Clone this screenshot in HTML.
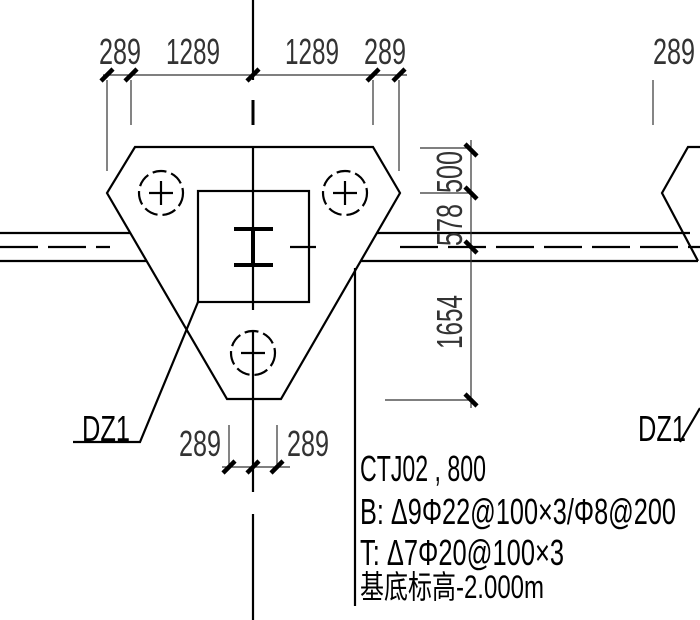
<!DOCTYPE html>
<html><head><style>body{margin:0;background:#fff}svg{display:block}</style></head><body>
<svg width="700" height="620" viewBox="0 0 700 620" xmlns="http://www.w3.org/2000/svg" font-family="Liberation Sans, Noto Sans CJK SC, sans-serif">
<g stroke="#000" fill="none" stroke-width="2.2">
<line x1="253" y1="0" x2="253" y2="80"/>
<line x1="253" y1="100" x2="253" y2="125" stroke-width="3"/>
<line x1="253" y1="147" x2="253" y2="310"/>
<line x1="253" y1="330" x2="253" y2="492"/>
<line x1="253" y1="514" x2="253" y2="620"/>
<polygon points="135,147 373,147 400,193 281,399 227,399 107,193"/>
<rect x="198" y="191" width="111" height="111"/>
<line x1="234" y1="229" x2="273" y2="229" stroke-width="4"/>
<line x1="234" y1="265" x2="273" y2="265" stroke-width="4"/>
<line x1="253" y1="229" x2="253" y2="265" stroke-width="4"/>
<g stroke-dasharray="14,5">
<circle cx="161" cy="193" r="22"/><circle cx="345" cy="193" r="22"/><circle cx="253" cy="353" r="22"/>
</g>
<path d="M149 193H173M161 181V205M333 193H357M345 181V205M241 353H265"/>
<path d="M0 233H130M0 261H147M377 233H690M361 261H698"/>
<g stroke-dasharray="38,10">
<path d="M0 247H110M290 247H316M400 247H700"/>
</g>
<path d="M700 147H688L662 193L698 261"/>
<path d="M198 302L140 442H73"/>
<path d="M680 442L700 408"/>
<line x1="355" y1="268" x2="355" y2="606"/>
</g>
<g stroke="#333" stroke-width="1.2" fill="none">
<path d="M103 75H407M107 80V171M131 80V125M373 80V125M399 80V171"/>
<path d="M471 140V408M420 148H471M420 193H471M385 400H471"/>
<path d="M222 467H290M229 425V467M277 425V467"/>
<path d="M653 80V125"/>
</g>
<g stroke="#000" stroke-width="4.5">
<path d="M101 81L113 69M125 81L137 69M247 81L259 69M367 81L379 69M393 81L405 69"/>
<path d="M465 144L477 156M465 187L477 199M465 241L477 253M465 394L477 406"/>
<path d="M223 473L235 461M247 473L259 461M271 473L283 461"/>
</g>
<g fill="#333" font-size="36">
<text x="99" y="64" textLength="42" lengthAdjust="spacingAndGlyphs">289</text>
<text x="166" y="64" textLength="54" lengthAdjust="spacingAndGlyphs">1289</text>
<text x="285" y="64" textLength="54" lengthAdjust="spacingAndGlyphs">1289</text>
<text x="364" y="64" textLength="42" lengthAdjust="spacingAndGlyphs">289</text>
<text x="653" y="64" textLength="42" lengthAdjust="spacingAndGlyphs">289</text>
<text x="179" y="456" textLength="42" lengthAdjust="spacingAndGlyphs">289</text>
<text x="287" y="456" textLength="42" lengthAdjust="spacingAndGlyphs">289</text>
<text transform="translate(462,193) rotate(-90)" textLength="42" lengthAdjust="spacingAndGlyphs">500</text>
<text transform="translate(462,246) rotate(-90)" textLength="42" lengthAdjust="spacingAndGlyphs">578</text>
<text transform="translate(462,349) rotate(-90)" textLength="54" lengthAdjust="spacingAndGlyphs">1654</text>
</g>
<g fill="#000" font-size="36">
<text x="82" y="441" textLength="48" lengthAdjust="spacingAndGlyphs">DZ1</text>
<text x="638" y="441" textLength="48" lengthAdjust="spacingAndGlyphs">DZ1</text>
<text x="360" y="481" textLength="126" lengthAdjust="spacingAndGlyphs">CTJ02 , 800</text>
<text x="360" y="524" textLength="316" lengthAdjust="spacingAndGlyphs">B: Δ9Φ22@100×3/Φ8@200</text>
<text x="360" y="565" textLength="204" lengthAdjust="spacingAndGlyphs">T: Δ7Φ20@100×3</text>
<text x="360" y="598" font-size="32" textLength="184" lengthAdjust="spacingAndGlyphs">基底标高-2.000m</text>
</g>
</svg>
</body></html>
